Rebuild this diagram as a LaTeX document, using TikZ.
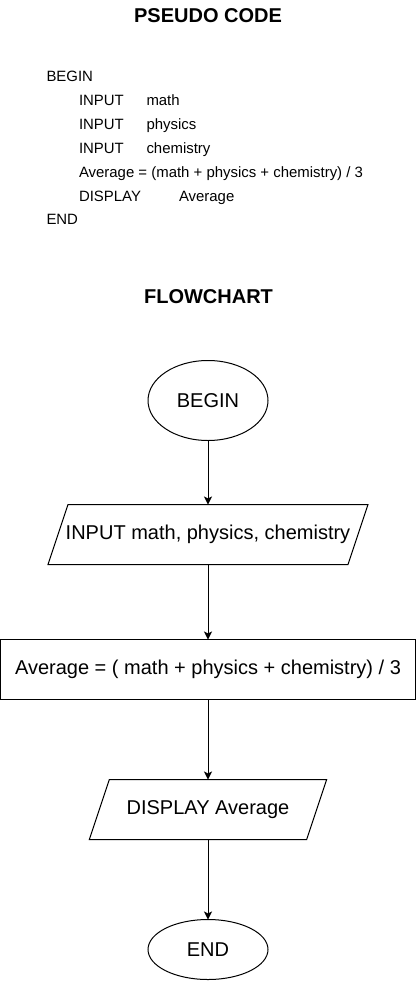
\documentclass[tikz,border=0pt]{standalone}
\usepackage{fontspec}
\setmainfont{Liberation Sans}
\usetikzlibrary{shapes.geometric, arrows.meta, positioning}

\begin{document}
\begin{tikzpicture}[
  x=0.75pt, y=-0.75pt, line width=0.75pt, outer sep=0pt,
  heading/.style ={font=\bfseries\fontsize{15}{18}\selectfont, anchor=base, inner sep=0pt},
  code/.style    ={font=\fontsize{11.2}{13}\selectfont, anchor=base west, inner sep=0pt},
  terminal/.style={ellipse, draw, minimum width=90pt, inner sep=0pt, font=\fontsize{15}{18}\selectfont},
  process/.style ={rectangle, draw, minimum width=311pt, minimum height=45pt, inner sep=0pt,
                   font=\fontsize{15}{18}\selectfont},
  io/.style      ={rectangle, minimum height=45pt, inner sep=0pt, font=\fontsize{15}{18}\selectfont},
  slant/.style   ={line join=miter},
  arrow/.style   ={-{Stealth[length=6pt, width=6pt, inset=1.5pt]}},
]
  \useasboundingbox (0,0) rectangle (417,981);

  % pseudo code
  \node[heading] (pchead) at (208,23) {PSEUDO CODE};
  \node[code] (pbegin) at (46.5,81)  {BEGIN};
  \node[code] (pin1)   at (79,105)   {INPUT};
  \node[code] (pv1)    at (146.5,105){math};
  \node[code] (pin2)   at (79,129)   {INPUT};
  \node[code] (pv2)    at (146.5,129){physics};
  \node[code] (pin3)   at (79,153)   {INPUT};
  \node[code] (pv3)    at (146.5,153){chemistry};
  \node[code] (pavg)   at (79,177)   {Average = (math + physics + chemistry) / 3};
  \node[code] (pdisp)  at (79,201)   {DISPLAY};
  \node[code] (pdv)    at (179,201)  {Average};
  \node[code] (pend)   at (46.5,224) {END};

  % flowchart
  \node[heading] (fchead) at (208.5,303) {FLOWCHART};
  \node[terminal, minimum height=60pt] (begin) at (208,400.5) {BEGIN};
  \node[io, minimum width=240pt, below=48pt of begin]  (input)   {INPUT math, physics, chemistry};
  \node[process, below=56.25pt of input]               (avg)     {Average = ( math + physics + chemistry) / 3};
  \node[io, minimum width=178pt, below=60pt of avg]    (display) {DISPLAY Average};
  \node[terminal, minimum height=45pt, below=60pt of display] (stop) {END};
  % parallelogram outlines of the io boxes
  \draw[slant] (input.south west) -- ([xshift=15pt]input.north west) -- (input.north east)
    -- ([xshift=-15pt]input.south east) -- cycle;
  \draw[slant] (display.south west) -- ([xshift=15pt]display.north west) -- (display.north east)
    -- ([xshift=-15pt]display.south east) -- cycle;
  \draw[arrow] (begin) -- (input);
  \draw[arrow] (input) -- (avg);
  \draw[arrow] (avg) -- (display);
  \draw[arrow] (display) -- (stop);
\end{tikzpicture}
\end{document}
